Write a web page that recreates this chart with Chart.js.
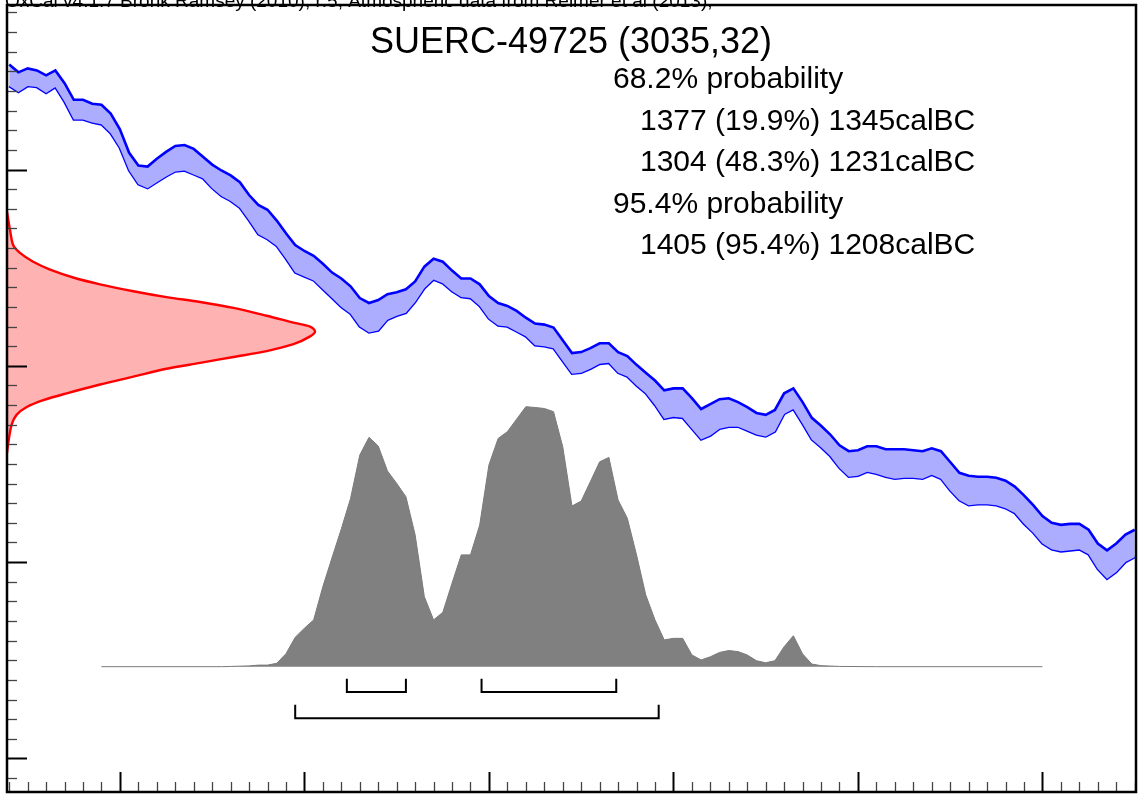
<!DOCTYPE html>
<html>
<head>
<meta charset="utf-8">
<script src="https://cdn.jsdelivr.net/npm/chart.js@4.4.0/dist/chart.umd.min.js"></script>
<style>
    html, body { margin: 0; padding: 0; background: #fff; }
    #wrap { width: 1140px; height: 794px; }
</style>
</head>
<body>
<div id="wrap"><canvas id="calib" width="1140" height="794"></canvas></div>
<script>
// ============================================================
// OxCal calibration plot — SUERC-49725
// ============================================================

// ─── Calibration curve (IntCal13, 1 sigma band) ───
const calYears = [
    -1560, -1555, -1550, -1545, -1540, -1535, -1530, -1525, -1520, -1515,
    -1510, -1505, -1500, -1495, -1490, -1485, -1480, -1475, -1470, -1465,
    -1460, -1455, -1450, -1445, -1440, -1435, -1430, -1425, -1420, -1415,
    -1410, -1405, -1400, -1395, -1390, -1385, -1380, -1375, -1370, -1365,
    -1360, -1355, -1350, -1345, -1340, -1335, -1330, -1325, -1320, -1315,
    -1310, -1305, -1300, -1295, -1290, -1285, -1280, -1275, -1270, -1265,
    -1260, -1255, -1250, -1245, -1240, -1235, -1230, -1225, -1220, -1215,
    -1210, -1205, -1200, -1195, -1190, -1185, -1180, -1175, -1170, -1165,
    -1160, -1155, -1150, -1145, -1140, -1135, -1130, -1125, -1120, -1115,
    -1110, -1105, -1100, -1095, -1090, -1085, -1080, -1075, -1070, -1065,
    -1060, -1055, -1050, -1045, -1040, -1035, -1030, -1025, -1020, -1015,
    -1010, -1005, -1000, -995, -990, -985, -980, -975, -970, -965,
    -960, -955, -950
];
const calUpper = [
    3307, 3299, 3303, 3301, 3296, 3301, 3288, 3271, 3271, 3267,
    3266, 3257, 3241, 3217, 3204, 3203, 3211, 3218, 3224, 3225,
    3221, 3213, 3205, 3199, 3194, 3187, 3174, 3164, 3159, 3148,
    3135, 3123, 3117, 3112, 3104, 3095, 3089, 3081, 3069, 3064,
    3067, 3073, 3075, 3078, 3086, 3101, 3109, 3106, 3097, 3089,
    3089, 3083, 3071, 3064, 3061, 3056, 3049, 3043, 3042, 3039,
    3026, 3013, 3014, 3018, 3023, 3023, 3014, 3010, 3001, 2993,
    2985, 2975, 2977, 2977, 2967, 2956, 2961, 2966, 2967, 2963,
    2958, 2952, 2950, 2955, 2972, 2977, 2963, 2947, 2939, 2930,
    2919, 2913, 2914, 2918, 2918, 2915, 2915, 2915, 2914, 2913,
    2916, 2913, 2902, 2891, 2888, 2887, 2887, 2886, 2883, 2877,
    2868, 2858, 2847, 2840, 2838, 2839, 2839, 2833, 2819, 2812,
    2819, 2828, 2833
];
const calLower = [
    3285, 3279, 3285, 3284, 3278, 3284, 3269, 3251, 3251, 3248,
    3246, 3237, 3222, 3199, 3185, 3181, 3187, 3193, 3198, 3199,
    3195, 3191, 3181, 3173, 3168, 3161, 3148, 3134, 3129, 3122,
    3109, 3095, 3091, 3087, 3078, 3069, 3060, 3053, 3040, 3034,
    3036, 3047, 3051, 3054, 3065, 3079, 3088, 3084, 3076, 3070,
    3069, 3061, 3048, 3041, 3040, 3035, 3030, 3021, 3020, 3018,
    3005, 2992, 2993, 2997, 3002, 3003, 2993, 2989, 2980, 2972,
    2960, 2946, 2948, 2947, 2936, 2925, 2929, 2936, 2938, 2938,
    2934, 2930, 2928, 2933, 2951, 2956, 2941, 2925, 2917, 2908,
    2896, 2887, 2888, 2892, 2890, 2887, 2885, 2886, 2886, 2885,
    2889, 2885, 2873, 2863, 2858, 2859, 2859, 2858, 2855, 2850,
    2839, 2830, 2819, 2813, 2811, 2812, 2813, 2808, 2793, 2783,
    2790, 2800, 2805
];

// ─── Radiocarbon measurement 3035 ± 32 BP (relative density) ───
const measBP = [
    3157, 3138, 3123, 3115, 3106, 3098, 3090, 3083, 3076, 3070, 3065,
    3059, 3051, 3044, 3040, 3035, 3030, 3022, 3015, 3009, 3003, 2997,
    2989, 2981, 2972, 2965, 2958, 2950, 2940, 2921, 2911
];
const measDensity = [
    0, 0.01, 0.02, 0.042, 0.085, 0.14, 0.215, 0.302, 0.41, 0.518, 0.627,
    0.735, 0.843, 0.93, 0.984, 1, 0.984, 0.93, 0.843, 0.735, 0.627, 0.518,
    0.41, 0.302, 0.194, 0.118, 0.064, 0.031, 0.015, 0.004, 0
];

// ─── Calibrated date (relative probability) ───
const postYears = [
    -1510, -1445, -1440, -1435, -1430, -1425, -1420, -1415, -1410, -1405,
    -1400, -1395, -1390, -1385, -1380, -1375, -1370, -1365, -1360, -1355,
    -1350, -1345, -1340, -1335, -1330, -1325, -1320, -1315, -1310, -1305,
    -1300, -1295, -1290, -1285, -1280, -1275, -1270, -1265, -1260, -1255,
    -1250, -1245, -1240, -1235, -1230, -1225, -1220, -1215, -1210, -1205,
    -1200, -1195, -1190, -1185, -1180, -1175, -1170, -1165, -1160, -1155,
    -1150, -1145, -1140, -1135, -1130, -1125, -1120, -1110, -1090, -1000
];
const postProb = [
    0, 0, 0.001, 0.002, 0.003, 0.006, 0.006, 0.013, 0.05, 0.113,
    0.148, 0.18, 0.308, 0.42, 0.53, 0.647, 0.814, 0.882, 0.849, 0.753,
    0.705, 0.654, 0.507, 0.269, 0.18, 0.209, 0.321, 0.43, 0.43, 0.545,
    0.776, 0.878, 0.904, 0.952, 1, 0.997, 0.993, 0.981, 0.846, 0.618,
    0.637, 0.712, 0.788, 0.805, 0.641, 0.571, 0.43, 0.276, 0.18, 0.103,
    0.109, 0.109, 0.045, 0.026, 0.038, 0.055, 0.062, 0.058, 0.045, 0.023,
    0.015, 0.023, 0.077, 0.119, 0.049, 0.01, 0.004, 0.001, 0, 0
];

// ─── Highest probability ranges (calendar years, negative = BC) ───
const range68 = [[-1377, -1345], [-1304, -1231]];
const range95 = [[-1405, -1208]];

// ─── Texts ───
const headerText = 'OxCal v4.1.7 Bronk Ramsey (2010); r:5; Atmospheric data from Reimer et al (2013);';
const titleText = 'SUERC-49725 (3035,32)';
const rangeText = [
    { text: '68.2% probability', indent: false },
    { text: '1377 (19.9%) 1345calBC', indent: true },
    { text: '1304 (48.3%) 1231calBC', indent: true },
    { text: '95.4% probability', indent: false },
    { text: '1405 (95.4%) 1208calBC', indent: true }
];

// axis ticks: step sizes
const X_MINOR = 10, X_MAJOR = 100;
const Y_MINOR = 20, Y_MAJOR = 200;

const FONT = "'Liberation Sans', Arial, sans-serif";

const toXY = (xs, ys) => xs.map((x, i) => ({ x, y: ys[i] }));

function bracketData(r, top, bar) {
    return [{ x: r[0], y: top }, { x: r[0], y: bar }, { x: r[1], y: bar }, { x: r[1], y: top }];
}

const bracketSets = [
    ...range68.map(r => bracketData(r, -0.05, -0.097)),
    ...range95.map(r => bracketData(r, -0.15, -0.198))
].map(d => ({
    type: 'line', data: d, xAxisID: 'x', yAxisID: 'yProb',
    borderColor: '#000', borderWidth: 2, pointRadius: 0, fill: false,
    borderCapStyle: 'square', borderJoinStyle: 'miter'
}));

// measurement curve closed along the left axis
const measPoly = toXY(measDensity, measBP);

// ─── Frame, inward ticks and texts ───
const oxcalDecor = {
    id: 'oxcalDecor',
    afterDraw(chart) {
        const { ctx, chartArea: a, scales } = chart;
        const sx = scales.x, sy = scales.y;
        ctx.save();

        // ticks
        ctx.lineCap = 'butt';
        for (let v = Math.ceil(sx.min / X_MINOR) * X_MINOR; v <= sx.max; v += X_MINOR) {
            const major = v % X_MAJOR === 0;
            const px = Math.round(sx.getPixelForValue(v)) + 0.5;
            ctx.strokeStyle = major ? '#000' : '#444';
            ctx.lineWidth = major ? 2 : 1.3;
            ctx.beginPath();
            ctx.moveTo(px, a.bottom);
            ctx.lineTo(px, a.bottom - (major ? 20 : 10));
            ctx.stroke();
        }
        for (let v = Math.ceil(sy.min / Y_MINOR) * Y_MINOR; v <= sy.max; v += Y_MINOR) {
            const major = v % Y_MAJOR === 0;
            const py = Math.round(sy.getPixelForValue(v)) + 0.5;
            ctx.strokeStyle = major ? '#000' : '#444';
            ctx.lineWidth = major ? 2 : 1.3;
            ctx.beginPath();
            ctx.moveTo(a.left, py);
            ctx.lineTo(a.left + (major ? 20 : 10), py);
            ctx.stroke();
        }

        // frame
        ctx.strokeStyle = '#000';
        ctx.lineWidth = 2.5;
        ctx.strokeRect(a.left, a.top, a.right - a.left, a.bottom - a.top);

        // texts
        ctx.fillStyle = '#000';
        ctx.textBaseline = 'alphabetic';
        ctx.font = '19px ' + FONT;
        ctx.textAlign = 'left';
        ctx.fillText(headerText, 5, 7);

        ctx.font = '36px ' + FONT;
        ctx.textAlign = 'center';
        ctx.fillText(titleText, 571, 53);

        ctx.font = '30px ' + FONT;
        ctx.textAlign = 'left';
        rangeText.forEach((r, i) => {
            ctx.fillText(r.text, r.indent ? 640 : 613, 88 + i * 41.5);
        });
        ctx.restore();
    }
};

const chart = new Chart(document.getElementById('calib'), {
    type: 'scatter',
    data: {
        datasets: [
            {
                label: 'calUpper', type: 'line',
                data: toXY(calYears, calUpper),
                borderColor: '#0000ff', borderWidth: 2.6, pointRadius: 0,
                backgroundColor: '#adadff', fill: '+1', tension: 0
            },
            {
                label: 'calLower', type: 'line',
                data: toXY(calYears, calLower),
                borderColor: '#0000ff', borderWidth: 2.6, pointRadius: 0,
                fill: false, tension: 0
            },
            {
                label: 'measurement', type: 'line',
                data: measPoly, xAxisID: 'xDens', yAxisID: 'y',
                borderColor: '#ff0000', borderWidth: 2.4, pointRadius: 0,
                backgroundColor: '#ffb2b2', fill: 'shape', tension: 0.3
            },
            {
                label: 'calibrated', type: 'line',
                data: toXY(postYears, postProb), xAxisID: 'x', yAxisID: 'yProb',
                borderColor: '#7a7a7a', borderWidth: 1, pointRadius: 0,
                backgroundColor: '#808080', fill: 'origin', tension: 0
            },
            ...bracketSets
        ]
    },
    options: {
        responsive: false,
        animation: false,
        devicePixelRatio: 1,
        layout: { padding: { left: 7, top: 5, right: 4, bottom: 2 } },
        plugins: { legend: { display: false }, tooltip: { enabled: false } },
        scales: {
            x: { type: 'linear', min: -1561.2, max: -949.3, display: false },
            y: { type: 'linear', min: 2565.8, max: 3367.6, display: false },
            xDens: { type: 'linear', axis: 'x', min: 0, max: 3.665, display: false },
            yProb: { type: 'linear', axis: 'y', min: -0.482, max: 2.545, display: false }
        }
    },
    plugins: [oxcalDecor]
});
</script>
</body>
</html>
